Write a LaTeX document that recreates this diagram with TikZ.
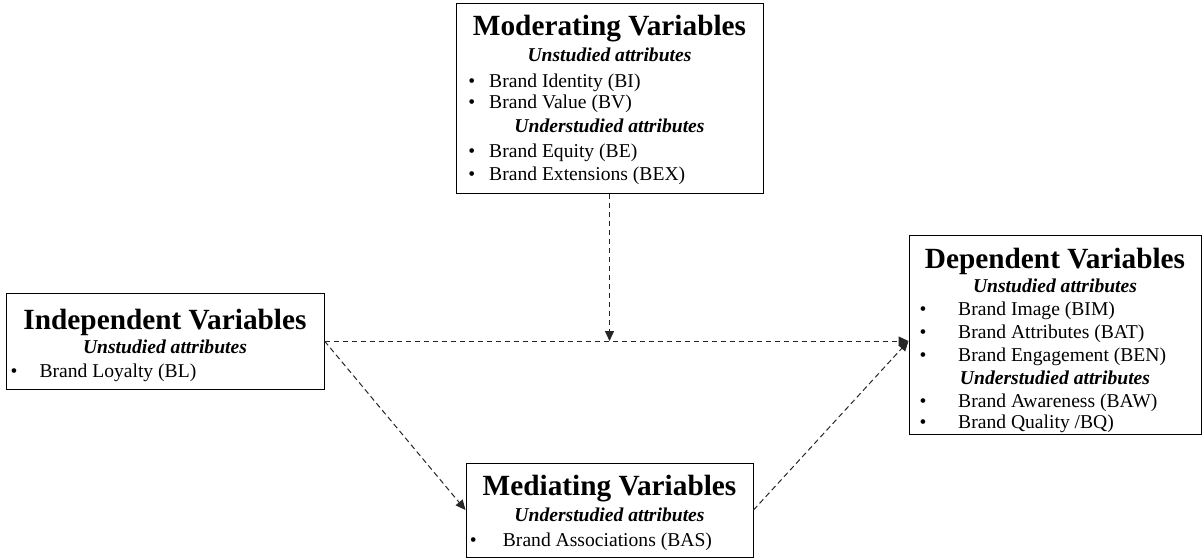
\documentclass[tikz,border=0pt]{standalone}
\usepackage{fontspec}
\setmainfont{Liberation Serif}
\usetikzlibrary{arrows.meta}

\newcommand{\titlesize}{\fontsize{29.3}{29.3}\selectfont\bfseries}
\newcommand{\itemsize}{\fontsize{19.6}{19.6}\selectfont}

\tikzset{
  varbox/.style={draw=black, line width=1pt, rectangle, inner sep=0pt},
  heading/.style={anchor=base, inner sep=0pt, font=\titlesize},
  subhead/.style={anchor=base, inner sep=0pt, font=\itemsize\bfseries\itshape},
  entry/.style={anchor=base west, inner sep=0pt, font=\itemsize},
  dot/.style={anchor=base, inner sep=0pt, font=\itemsize},
  flow/.style={draw=black!85, line width=1pt, dash pattern=on 5.5pt off 3.5pt,
    -{Triangle[length=10pt,width=9pt]}}
}

\begin{document}
\begin{tikzpicture}[x=1pt, y=-1pt]
\useasboundingbox (0,0) rectangle (1204,558);

% ---- boxes ----
\node[varbox, minimum width=307pt, minimum height=190pt] (mod) at (609.5,98) {};
\node[varbox, minimum width=318pt, minimum height=96pt]  (ind) at (165,341) {};
\node[varbox, minimum width=292pt, minimum height=199pt] (dep) at (1055,334.5) {};
\node[varbox, minimum width=287pt, minimum height=94pt]  (med) at (609.5,510) {};

% ---- moderating variables ----
\node[heading] (mod-t)  at (609.5,35)  {Moderating Variables};
\node[subhead] (mod-h1) at (609.5,61)  {Unstudied attributes};
\node[dot]     (mod-d1) at (471.7,87)  {•};
\node[entry]   (mod-e1) at (489,87)    {Brand Identity (BI)};
\node[dot]     (mod-d2) at (471.7,108.5) {•};
\node[entry]   (mod-e2) at (489,108.5) {Brand Value (BV)};
\node[subhead] (mod-h2) at (609.5,132) {Understudied attributes};
\node[dot]     (mod-d3) at (471.7,157) {•};
\node[entry]   (mod-e3) at (489,157)   {Brand Equity (BE)};
\node[dot]     (mod-d4) at (471.7,180) {•};
\node[entry]   (mod-e4) at (489,180)   {Brand Extensions (BEX)};

% ---- independent variables ----
\node[heading] (ind-t)  at (165,329)   {Independent Variables};
\node[subhead] (ind-h1) at (165,353)   {Unstudied attributes};
\node[dot]     (ind-d1) at (14,377)    {•};
\node[entry]   (ind-e1) at (39.3,377)  {Brand Loyalty (BL)};

% ---- dependent variables ----
\node[heading] (dep-t)  at (1055,268)  {Dependent Variables};
\node[subhead] (dep-h1) at (1055,292)  {Unstudied attributes};
\node[dot]     (dep-d1) at (923,315.5) {•};
\node[entry]   (dep-e1) at (958,315.5) {Brand Image (BIM)};
\node[dot]     (dep-d2) at (923,338)   {•};
\node[entry]   (dep-e2) at (958,338)   {Brand Attributes (BAT)};
\node[dot]     (dep-d3) at (923,361.5) {•};
\node[entry]   (dep-e3) at (958,361.5) {Brand Engagement (BEN)};
\node[subhead] (dep-h2) at (1055,384)  {Understudied attributes};
\node[dot]     (dep-d4) at (923,407)   {•};
\node[entry]   (dep-e4) at (958,407)   {Brand Awareness (BAW)};
\node[dot]     (dep-d5) at (923,428.5) {•};
\node[entry]   (dep-e5) at (958,428.5) {Brand Quality /BQ)};

% ---- mediating variables ----
\node[heading] (med-t)  at (609.5,495)   {Mediating Variables};
\node[subhead] (med-h1) at (609.5,521.5) {Understudied attributes};
\node[dot]     (med-d1) at (473.3,546)   {•};
\node[entry]   (med-e1) at (502.7,546)   {Brand Associations (BAS)};

% ---- connectors ----
\coordinate (hit) at (ind.east -| dep.west);
\coordinate (cross) at (mod.south |- ind.east);
\draw[flow] (ind.east) -- (hit);
\draw[flow] (mod.south) -- (cross);
\draw[flow] (ind.east) -- (med.west);
\draw[flow] (med.east) -- (hit);
\end{tikzpicture}
\end{document}
